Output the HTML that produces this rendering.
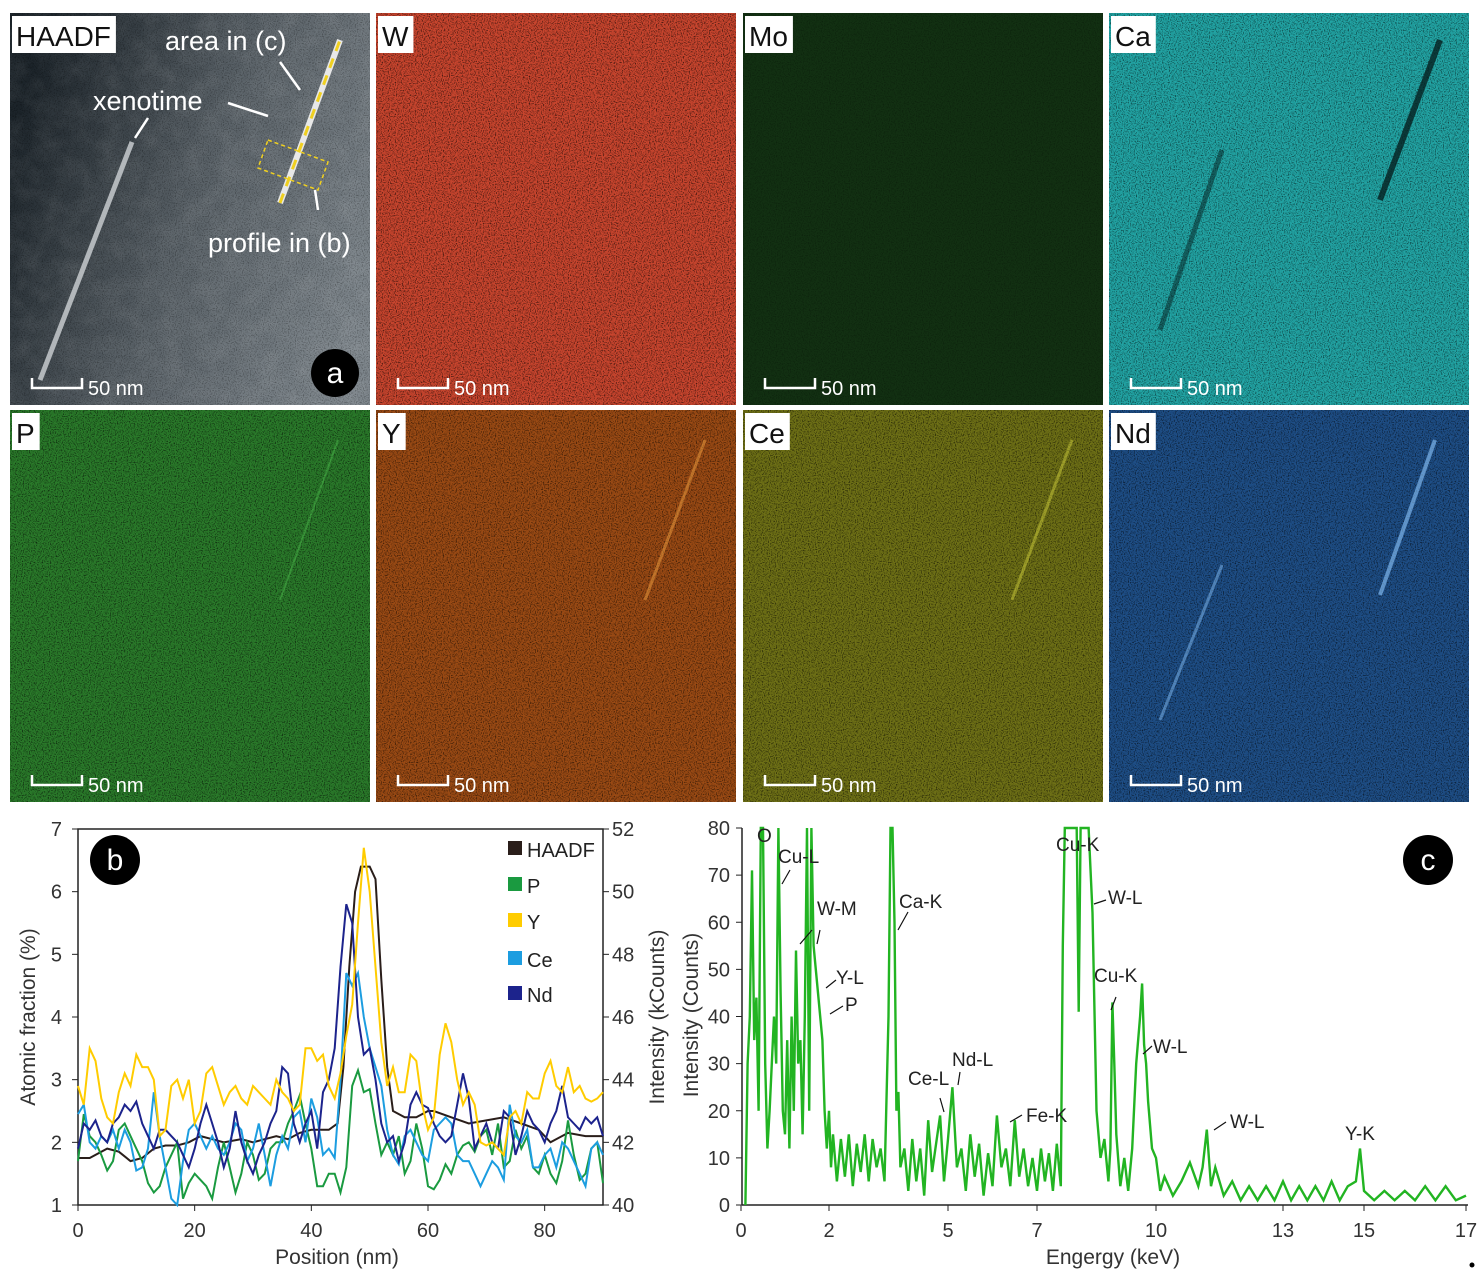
<!DOCTYPE html>
<html><head><meta charset="utf-8"><style>
html,body{margin:0;padding:0;background:#fff;}
body{width:1481px;height:1279px;overflow:hidden;font-family:"Liberation Sans",sans-serif;}
svg text{font-family:"Liberation Sans",sans-serif;}
</style></head><body>
<svg id="fig" width="1481" height="1279" viewBox="0 0 1481 1279" xmlns="http://www.w3.org/2000/svg">
<defs>
<filter id="noise" x="0" y="0" width="100%" height="100%">
<feTurbulence type="fractalNoise" baseFrequency="0.85" numOctaves="1" seed="3"/>
<feColorMatrix type="matrix" values="0 0 0 0 0  0 0 0 0 0  0 0 0 0 0  -3 0 0 0 1.6"/>
</filter>
<filter id="noise2" x="0" y="0" width="100%" height="100%">
<feTurbulence type="fractalNoise" baseFrequency="0.05" numOctaves="3" seed="7"/>
<feColorMatrix type="matrix" values="0 0 0 0 1  0 0 0 0 1  0 0 0 0 1  0.6 0 0 0 -0.2"/>
</filter>
<linearGradient id="hg" x1="0" y1="0.3" x2="1" y2="0.7">
<stop offset="0" stop-color="#1c242a"/><stop offset="0.5" stop-color="#5a6268"/><stop offset="1" stop-color="#7e868c"/>
</linearGradient>
</defs>
<g id="maps"></g>
<g id="chartb"></g>
<g id="chartc"></g>
<circle cx="1472" cy="1265" r="2.5" fill="#000"/>
</svg>
<script>
// ---------- chart b data ----------
const posX = Array.from({length:91},(_,i)=>i);
const yVals = [2.9,2.6,3.5,3.3,2.7,2.4,2.3,2.8,3.1,2.9,3.4,3.2,3.2,3.0,2.1,2.2,2.9,3.0,2.7,3.0,2.3,2.5,3.1,3.2,2.9,2.6,2.8,2.9,2.7,2.6,2.9,2.8,2.7,2.6,3.0,2.8,2.7,2.5,2.6,3.5,3.5,3.3,3.4,2.9,2.7,3.1,3.7,4.2,5.5,6.7,6.0,4.8,3.6,2.9,3.2,2.8,2.8,3.4,3.3,2.6,2.2,2.4,3.4,3.9,3.6,3.0,2.6,2.8,2.6,2.0,1.95,2.0,1.9,1.8,2.4,2.5,2.3,2.8,2.7,2.7,3.1,3.3,2.9,2.8,3.2,2.8,2.9,2.7,2.65,2.7,2.8];
const pVals = [1.7,2.45,2.1,2.0,1.8,1.55,1.7,2.2,2.3,2.1,1.9,1.7,1.35,1.2,1.3,1.6,1.8,2.0,1.1,1.35,1.5,1.4,1.3,1.1,1.6,2.0,1.6,1.2,1.5,2.0,1.8,1.4,1.5,1.9,2.0,2.0,2.3,2.5,2.75,2.3,1.9,1.3,1.3,1.5,1.5,1.2,1.6,2.9,3.15,2.8,2.85,2.3,1.8,2.0,1.8,2.1,1.5,1.7,2.3,1.9,1.3,1.25,1.4,1.65,1.5,1.8,1.95,2.0,1.85,2.1,2.2,1.8,2.3,1.6,1.7,2.2,1.9,2.1,1.6,1.5,1.8,1.5,1.35,1.7,2.35,1.8,1.4,1.5,1.9,2.0,1.35];
const ceVals = [2.45,2.6,2.0,1.9,2.1,2.0,2.2,1.9,2.2,2.0,1.55,1.6,1.9,2.8,2.1,1.6,1.1,1.0,1.7,2.2,2.3,2.1,1.9,2.1,1.9,1.8,2.0,2.3,2.2,1.7,1.9,2.3,1.8,1.3,1.8,2.1,1.9,2.4,2.5,2.0,2.7,2.4,1.8,1.9,1.75,3.0,4.7,4.5,4.7,4.0,3.5,3.2,2.9,2.2,1.8,1.65,2.1,2.2,2.0,1.8,1.7,2.2,2.3,2.4,2.3,1.8,1.7,1.7,1.5,1.3,1.5,1.7,1.6,1.4,2.6,2.1,2.0,2.2,1.6,1.6,1.8,1.9,1.6,2.0,1.9,1.7,1.5,1.3,1.9,2.0,1.8];
const ndVals = [1.9,2.3,2.2,2.35,2.1,2.0,2.3,2.4,2.6,2.5,2.65,2.3,2.1,1.9,2.2,2.2,2.1,2.0,1.8,1.6,1.9,2.3,2.6,2.3,2.0,1.6,1.9,2.5,2.0,1.7,1.5,1.8,2.0,2.3,2.5,3.2,3.1,2.3,2.0,2.3,2.5,1.9,2.8,3.0,3.5,4.8,5.8,5.5,4.0,3.4,3.5,3.0,2.3,2.0,2.1,1.7,2.0,2.6,2.8,2.6,2.55,2.3,2.1,2.0,2.1,2.6,3.1,2.7,1.9,2.1,2.3,2.0,1.9,2.5,2.4,1.8,2.1,2.5,2.3,2.2,2.0,2.3,2.5,2.9,2.4,2.3,2.2,2.4,2.3,2.4,2.1];
const haadfX = [0,2,5,7,9,11,13,15,17,19,21,23,25,28,30,32,34,36,38,40,43,44.5,45.5,46.5,47.5,48.5,50,51,52,53,54,56,58,60,61,64,67,70,73,76,79,81,84,87,90];
const haadfVals = [1.75,1.75,1.9,1.85,1.7,1.75,1.9,1.95,1.95,2.0,2.1,2.05,2.0,2.05,2.0,2.05,2.1,2.05,2.15,2.2,2.2,2.3,3.2,4.8,6.0,6.4,6.4,6.2,4.6,3.2,2.5,2.4,2.4,2.5,2.5,2.4,2.3,2.35,2.4,2.3,2.2,2.0,2.15,2.1,2.1];
const bXTicks = [0,20,40,60,80];
const bYTicks = [1,2,3,4,5,6,7];
const bY2Ticks = [40,42,44,46,48,50,52];
const legendNames = ["HAADF","P","Y","Ce","Nd"];
// ---------- chart c data ----------
const cTickVals = [0,2,5,7,10,13,15,17];
const cYTicks = [0,10,20,30,40,50,60,70,80];
const eKeV = [
0.1,0.15,0.2,0.25,0.3,0.35,0.4,0.45,0.5,0.55,
0.6,0.65,0.7,0.75,0.8,0.85,0.9,0.95,1.0,1.05,
1.1,1.15,1.2,1.25,1.3,1.35,1.4,1.45,1.5,1.55,
1.6,1.65,1.7,1.75,1.8,1.85,1.9,1.95,2.0,2.05,
2.1,2.2,2.3,2.4,2.5,2.6,2.7,2.8,2.9,3.0,
3.1,3.2,3.3,3.4,3.5,3.55,3.6,3.65,3.7,3.75,
3.8,3.9,4.0,4.1,4.2,4.3,4.4,4.5,4.6,4.7,
4.8,4.9,5.0,5.1,5.2,5.3,5.4,5.5,5.6,5.7,
5.8,5.9,6.0,6.1,6.2,6.3,6.4,6.5,6.6,6.7,
6.8,6.9,7.0,7.1,7.2,7.3,7.4,7.5,7.6,7.65,
7.7,7.8,7.9,8.0,8.05,8.1,8.2,8.3,8.4,8.5,
8.6,8.7,8.8,8.85,8.9,8.95,9.0,9.1,9.2,9.3,
9.4,9.5,9.6,9.65,9.7,9.75,9.8,9.9,10.0,10.1,
10.2,10.4,10.6,10.8,11.0,11.1,11.2,11.3,11.4,11.6,
11.8,12.0,12.2,12.4,12.6,12.8,13.0,13.2,13.4,13.6,
13.8,14.0,14.2,14.4,14.6,14.8,14.9,15.0,15.2,15.4,
15.6,15.8,16.0,16.2,16.4,16.6,16.8,17.0];
const eCounts = [
0,30,40,71,35,44,20,80,80,30,
12,20,30,40,30,80,45,20,15,35,
12,40,20,54,30,35,15,40,80,20,
80,55,50,45,40,35,20,12,20,8,
15,5,14,6,15,4,13,7,15,5,
14,8,12,5,40,80,80,60,20,24,
8,12,3,14,5,12,2,18,7,13,
19,5,14,25,8,12,3,15,6,13,
2,11,4,19,8,12,4,18,6,12,
4,10,3,12,5,11,3,13,4,55,
80,80,80,80,41,80,80,80,62,20,
10,14,5,12,43,30,15,4,10,3,
12,30,40,47,34,30,22,12,10,3,
6,2,5,9,4,8,16,4,8,2,
5,1,4,1,4,1,5,1,4,1,
4,1,5,1,4,5,12,3,1,3,
1,3,1,4,1,4,1,2];
const peakLabels = ["O","Cu-L","W-M","Ca-K","Y-L","P","Ce-L","Nd-L","Fe-K","Cu-K","W-L","Cu-K","W-L","W-L","Y-K"];

const NS="http://www.w3.org/2000/svg";
function mk(tag,attrs,parent){const e=document.createElementNS(NS,tag);for(const k in attrs)e.setAttribute(k,attrs[k]);parent.appendChild(e);return e;}
function txt(s,attrs,parent){const e=mk("text",attrs,parent);e.textContent=s;return e;}

// ---------- maps ----------
const maps=document.getElementById("maps");
const panels=[
 {n:"HAADF",x:10,y:13,c:"url(#hg)",a:0.35},
 {n:"W",x:376,y:13,c:"#c8452e",a:0.75},
 {n:"Mo",x:743,y:13,c:"#123012",a:0.3},
 {n:"Ca",x:1109,y:13,c:"#22a4a4",a:0.65},
 {n:"P",x:10,y:410,c:"#2a7a2a",a:0.7},
 {n:"Y",x:376,y:410,c:"#9a4a14",a:0.7},
 {n:"Ce",x:743,y:410,c:"#6e7016",a:0.7},
 {n:"Nd",x:1109,y:410,c:"#1e4e86",a:0.7}];
panels.forEach(p=>{
 const g=mk("g",{},maps);
 
 
 mk("rect",{x:p.x,y:p.y,width:360,height:392,fill:p.c},g);
 if(p.n==="HAADF"){mk("rect",{x:p.x,y:p.y,width:360,height:392,fill:"#fff",filter:"url(#noise2)",opacity:0.25},g);}
 mk("rect",{x:p.x,y:p.y,width:360,height:392,fill:"#000",filter:"url(#noise)",opacity:p.a},g);
 const box=mk("rect",{x:p.x+2,y:p.y+3,width:40,height:37,fill:"#fff"},g);
 const lab=txt(p.n,{x:p.x+6,y:p.y+33,"font-size":28,fill:"#111"},g);
 
 
 box.setAttribute("width", lab.getComputedTextLength()+9);
 const sb=mk("path",{d:`M${p.x+22} ${p.y+365}V${p.y+375}H${p.x+72}V${p.y+365}`,stroke:"#fff","stroke-width":2.5,fill:"none"},g);
 
 
 txt("50 nm",{x:p.x+78,y:p.y+382,"font-size":20,fill:"#fff"},g);
});
// features
mk("line",{x1:40,y1:380,x2:132,y2:142,stroke:"#cfd3d6","stroke-width":5,opacity:0.8},maps);
mk("line",{x1:280,y1:203,x2:340,y2:40,stroke:"#e8e8e8","stroke-width":6},maps);
mk("line",{x1:280,y1:203,x2:340,y2:40,stroke:"#f0d020","stroke-width":3,"stroke-dasharray":"10 8"},maps);
mk("polygon",{points:"268,140 328,162 318,190 258,168",fill:"none",stroke:"#f0d020","stroke-width":1.5,"stroke-dasharray":"4 3"},maps);
mk("line",{x1:1440,y1:40,x2:1380,y2:200,stroke:"#062020","stroke-width":6,opacity:0.8},maps);
mk("line",{x1:1222,y1:150,x2:1160,y2:330,stroke:"#062020","stroke-width":5,opacity:0.5},maps);
mk("line",{x1:1435,y1:440,x2:1380,y2:595,stroke:"#8ec8ff","stroke-width":4,opacity:0.6},maps);
mk("line",{x1:1222,y1:565,x2:1160,y2:720,stroke:"#8ec8ff","stroke-width":3,opacity:0.45},maps);
mk("line",{x1:705,y1:440,x2:645,y2:600,stroke:"#f0a040","stroke-width":3,opacity:0.5},maps);
mk("line",{x1:1072,y1:440,x2:1012,y2:600,stroke:"#d8d840","stroke-width":3,opacity:0.45},maps);
mk("line",{x1:338,y1:440,x2:280,y2:600,stroke:"#60e060","stroke-width":2,opacity:0.3},maps);
[["xenotime",93,110],["area in (c)",165,50],["profile in (b)",208,252]].forEach(t=>{const e=txt(t[0],{x:t[1],y:t[2],"font-size":27,fill:"#fff"},maps);});
mk("path",{d:"M148 118L135 138M228 103L268 116M280 62L300 90M318 210L315 190",stroke:"#fff","stroke-width":2.5,fill:"none"},maps);
mk("circle",{cx:335,cy:373,r:24,fill:"#000"},maps);
txt("a",{x:335,y:383,"font-size":30,fill:"#fff","text-anchor":"middle"},maps);

// ---------- chart b ----------
const B=document.getElementById("chartb");
const bx=v=>78+v*(603-78)/90;
const by=v=>1205-(v-1)*(1205-829)/6;
const by2=v=>1205-(v-40)*(1205-829)/12;
mk("rect",{x:78,y:829,width:525,height:376,fill:"none",stroke:"#222","stroke-width":1.5},B);
bXTicks.forEach(v=>{mk("line",{x1:bx(v),y1:1205,x2:bx(v),y2:1211,stroke:"#222"},B);const t=txt(v,{x:bx(v),y:1237,"font-size":20,fill:"#333","text-anchor":"middle"},B);});
bYTicks.forEach(v=>{mk("line",{x1:72,y1:by(v),x2:78,y2:by(v),stroke:"#222"},B);const t=txt(v,{x:62,y:by(v)+7,"font-size":20,fill:"#333","text-anchor":"end"},B);});
bY2Ticks.forEach(v=>{mk("line",{x1:603,y1:by2(v),x2:609,y2:by2(v),stroke:"#222"},B);const t=txt(v,{x:612,y:by2(v)+7,"font-size":20,fill:"#333"},B);});
let e=txt("Position (nm)",{x:337,y:1264,"font-size":21,fill:"#333","text-anchor":"middle"},B);

e=txt("Atomic fraction (%)",{x:0,y:0,"font-size":21,fill:"#333","text-anchor":"middle",transform:"translate(35,1017) rotate(-90)"},B);

e=txt("Intensity (kCounts)",{x:0,y:0,"font-size":21,fill:"#333","text-anchor":"middle",transform:"translate(664,1017) rotate(-90)"},B);

const series=[[haadfX,haadfVals,"#2a1e1a"],[posX,pVals,"#1a9a40"],[posX,ceVals,"#1c9de0"],[posX,ndVals,"#1c238c"],[posX,yVals,"#ffcc00"]];
const sNames=["HAADF","P","Ce","Nd","Y"];
series.forEach((s,i)=>{const d=s[0].map((x,j)=>(j?"L":"M")+bx(x).toFixed(1)+" "+by(s[1][j]).toFixed(1)).join("");
 const p=mk("path",{d:d,fill:"none",stroke:s[2],"stroke-width":2},B);
 
 });
const legCol={"HAADF":"#2a1e1a","P":"#1a9a40","Y":"#ffcc00","Ce":"#1c9de0","Nd":"#1c238c"};
legendNames.forEach((n,i)=>{const y=[849,885,921,959,994][i];
 const g=mk("g",{},B);
 
 
 mk("rect",{x:508,y:y-8,width:14,height:14,fill:legCol[n]},g);
 txt(n,{x:527,y:y+8,"font-size":20,fill:"#222"},g);});
mk("circle",{cx:115,cy:860,r:25,fill:"#000"},B);
txt("b",{x:115,y:870,"font-size":30,fill:"#fff","text-anchor":"middle"},B);

// ---------- chart c ----------
const C=document.getElementById("chartc");
const cPix=[741,829,948,1037,1156,1283,1364,1466];
function cx(v){for(let i=0;i<cTickVals.length-1;i++){if(v<=cTickVals[i+1]){const a=cTickVals[i],b=cTickVals[i+1];return cPix[i]+(v-a)/(b-a)*(cPix[i+1]-cPix[i]);}}return cPix[cPix.length-1];}
const cy=v=>1205-Math.min(v,80)*(1205-828)/80;
mk("line",{x1:742,y1:828,x2:742,y2:1205,stroke:"#222","stroke-width":1.5},C);
mk("line",{x1:742,y1:1205,x2:1468,y2:1205,stroke:"#222","stroke-width":1.5},C);
cTickVals.forEach(v=>{mk("line",{x1:cx(v),y1:1205,x2:cx(v),y2:1211,stroke:"#222"},C);const t=txt(v,{x:cx(v),y:1237,"font-size":20,fill:"#333","text-anchor":"middle"},C);});
cYTicks.forEach(v=>{mk("line",{x1:736,y1:cy(v),x2:742,y2:cy(v),stroke:"#222"},C);const t=txt(v,{x:730,y:cy(v)+7,"font-size":20,fill:"#333","text-anchor":"end"},C);});
e=txt("Engergy (keV)",{x:1113,y:1264,"font-size":21,fill:"#333","text-anchor":"middle"},C);

e=txt("Intensity (Counts)",{x:0,y:0,"font-size":21,fill:"#333","text-anchor":"middle",transform:"translate(698,1015) rotate(-90)"},C);

let d="";eKeV.forEach((k,j)=>{d+=(j?"L":"M")+cx(k).toFixed(1)+" "+cy(eCounts[j]).toFixed(1);});
const sp=mk("path",{d:d,fill:"none",stroke:"#22b422","stroke-width":2.4},C);


const lp=[[757,842],[778,863],[817,915],[899,908],[836,984],[845,1011],[908,1085],[952,1066],[1026,1122],[1056,851],[1108,904],[1094,982],[1153,1053],[1230,1128],[1345,1140]];
peakLabels.forEach((n,i)=>{const t=txt(n,{x:lp[i][0],y:lp[i][1],"font-size":19,fill:"#222"},C);});
mk("path",{d:"M790 870L782 884M812 930L800 944M820 930L817 944M908 912L898 930M836 980L826 988M843 1006L830 1014M940 1098L944 1112M960 1072L958 1085M1022 1115L1010 1122M1106 900L1094 904M1116 997L1111 1010M1152 1046L1143 1054M1226 1122L1214 1130",stroke:"#111","stroke-width":1.2,fill:"none"},C);
mk("circle",{cx:1428,cy:860,r:25,fill:"#000"},C);
txt("c",{x:1428,y:870,"font-size":30,fill:"#fff","text-anchor":"middle"},C);
</script>
</body></html>
